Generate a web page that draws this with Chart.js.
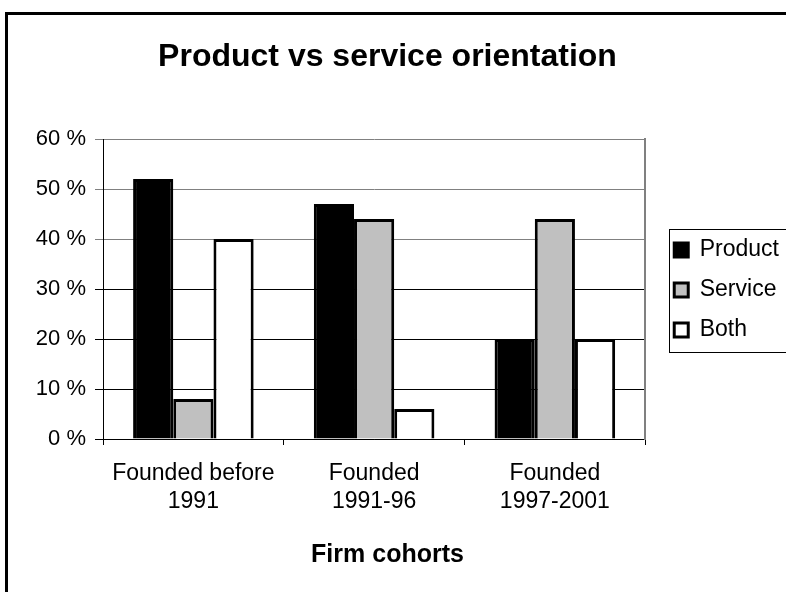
<!DOCTYPE html>
<html><head><meta charset="utf-8">
<script src="https://cdn.jsdelivr.net/npm/chart.js@4.4.0/dist/chart.umd.min.js"></script>
<style>html,body{margin:0;padding:0;background:#fff;overflow:hidden}canvas{display:block}</style>
</head><body>
<canvas id="c" width="786" height="592"></canvas>
<script>
const categories = [['Founded before', '1991'], ['Founded', '1991-96'], ['Founded', '1997-2001']];
const seriesNames = ['Product', 'Service', 'Both'];
const productValues = [52, 47, 20];
const serviceValues = [8, 44, 44];
const bothValues = [40, 6, 20];
const yTicks = [0, 10, 20, 30, 40, 50, 60];
const FONT = "'Liberation Sans', Arial, sans-serif";

const framePlugin = {
  id: 'frame',
  afterLayout(chart) {
    const lg = chart.legend;
    if (lg) { lg.top -= 6; lg.bottom -= 6; }
  },
  beforeDraw(chart) {
    const ctx = chart.ctx;
    ctx.save();
    ctx.strokeStyle = '#000';
    ctx.lineWidth = 3;
    ctx.strokeRect(6.5, 13.5, 1000, 1000);
    ctx.restore();
  },
  afterDraw(chart) {
    const lg = chart.legend;
    if (!lg || !lg.legendHitBoxes || !lg.legendHitBoxes.length) return;
    const hb = lg.legendHitBoxes;
    const first = hb[0], last = hb[hb.length - 1];
    const ctx = chart.ctx;
    ctx.save();
    ctx.strokeStyle = '#000';
    ctx.lineWidth = 1;
    const l = Math.round(first.left - 5) + 0.5;
    const t = Math.round(first.top - 10) + 0.5;
    const b = Math.round(last.top + last.height + 10) + 0.5;
    ctx.strokeRect(l, t, 400, b - t);
    ctx.restore();
  }
};

new Chart(document.getElementById('c'), {
  type: 'bar',
  data: {
    labels: categories,
    datasets: [
      { label: seriesNames[0], data: productValues, backgroundColor: '#000000', borderColor: '#000000', borderWidth: 3 },
      { label: seriesNames[1], data: serviceValues, backgroundColor: '#c0c0c0', borderColor: '#000000', borderWidth: 3 },
      { label: seriesNames[2], data: bothValues, backgroundColor: '#ffffff', borderColor: '#000000', borderWidth: 3 }
    ]
  },
  options: {
    responsive: false,
    animation: false,
    devicePixelRatio: 1,
    layout: { padding: { left: -14, right: -3, top: 0, bottom: 0 } },
    datasets: { bar: { categoryPercentage: 0.667, barPercentage: 1.0 } },
    scales: {
      x: {
        offset: true,
        grid: { offset: true, drawOnChartArea: false, tickLength: 6, color: '#000', lineWidth: 1 },
        border: { color: '#000', width: 1 },
        ticks: { font: { family: FONT, size: 23, lineHeight: '28px' }, color: '#000', padding: 15, maxRotation: 0, autoSkip: false },
        afterFit(s) { s.height = 101; }
      },
      y: {
        min: 0, max: 60,
        afterBuildTicks(s) { s.ticks = yTicks.map(v => ({ value: v })); },
        ticks: { callback: v => v + ' %', font: { family: FONT, size: 22 }, color: '#000', padding: 9 },
        grid: { tickLength: 8, lineWidth: 1, color: c => (c.tick && c.tick.value >= 40) ? '#808080' : '#000000' },
        border: { color: '#000', width: 1 },
        afterFit(s) { s.width = 117; }
      },
      y2: {
        position: 'right',
        display: true,
        grid: { display: false },
        ticks: { display: false },
        border: { color: '#808080', width: 2 },
        afterFit(s) { s.width = 12; }
      }
    },
    plugins: {
      title: {
        display: true, text: 'Product vs service orientation', color: '#000',
        font: { family: FONT, size: 32, weight: 'bold', lineHeight: 1.2 },
        padding: { top: 37.8, bottom: 62.8 }
      },
      subtitle: {
        display: true, position: 'bottom', text: 'Firm cohorts', color: '#000',
        font: { family: FONT, size: 25, weight: 'bold', lineHeight: 1.2 },
        padding: { top: 0, bottom: 22 }
      },
      legend: {
        position: 'right',
        labels: { font: { family: FONT, size: 23 }, color: '#000', boxWidth: 14, boxHeight: 14, padding: 17 }
      },
      tooltip: { enabled: false }
    }
  },
  plugins: [framePlugin]
});
</script>
</body></html>
